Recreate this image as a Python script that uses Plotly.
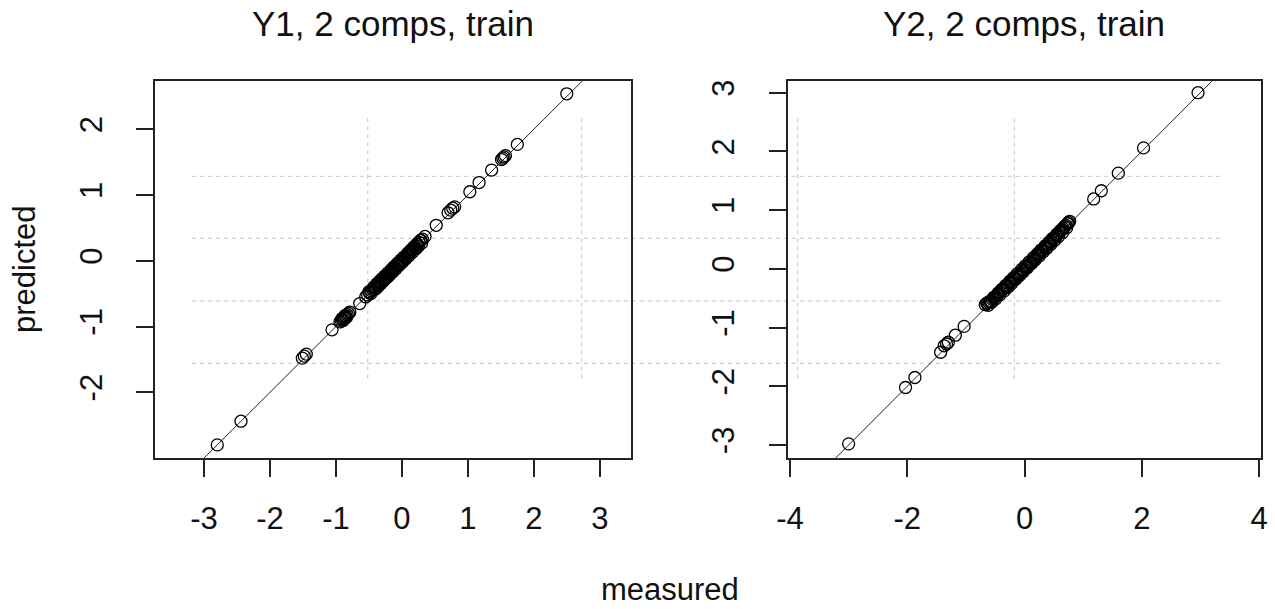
import plotly.graph_objects as go

# ---- data: measured vs. predicted responses (training set, 2 components) ----
y1_measured = [2.50, 1.75, 1.57, 1.55, 1.53, 1.51, 1.36, 1.17, 1.03, 0.80, 0.77, 0.74,
               0.70, 0.52, 0.35, 0.31, 0.29, 0.26, 0.24, 0.22, 0.20, 0.19, 0.17, 0.15,
               0.13, 0.12, 0.10, 0.08, 0.07, 0.05, 0.04, 0.02, 0.00, -0.01, -0.03,
               -0.05, -0.06, -0.08, -0.10, -0.11, -0.13, -0.15, -0.17, -0.18, -0.20,
               -0.22, -0.24, -0.25, -0.27, -0.29, -0.31, -0.33, -0.35, -0.37, -0.39,
               -0.41, -0.44, -0.46, -0.49, -0.52, -0.55, -0.64, -0.79, -0.81, -0.83,
               -0.85, -0.87, -0.88, -0.90, -0.92, -0.94, -1.06, -1.45, -1.48, -1.51,
               -2.44, -2.80,
               0.30, 0.28, 0.25, 0.23, 0.21, 0.18, 0.16, 0.14, 0.11, 0.09, 0.06, 0.03,
               0.01, -0.02, -0.04, -0.07, -0.09, -0.12, -0.14, -0.16, -0.19, -0.21,
               -0.23, -0.26, -0.28, -0.30, -0.32, -0.34, -0.36, -0.38, -0.40, -0.43,
               -0.47, -0.50, -0.84, -0.86, -0.89, -0.91]
y1_predicted = [2.54, 1.77, 1.60, 1.58, 1.56, 1.54, 1.38, 1.19, 1.05, 0.82, 0.80, 0.77,
                0.73, 0.54, 0.37, 0.33, 0.31, 0.28, 0.25, 0.23, 0.21, 0.20, 0.18, 0.16,
                0.14, 0.13, 0.11, 0.09, 0.07, 0.05, 0.04, 0.02, 0.00, -0.01, -0.03,
                -0.05, -0.06, -0.08, -0.10, -0.11, -0.13, -0.15, -0.17, -0.18, -0.20,
                -0.22, -0.24, -0.25, -0.27, -0.29, -0.31, -0.33, -0.35, -0.37, -0.39,
                -0.41, -0.44, -0.46, -0.49, -0.52, -0.55, -0.65, -0.78, -0.80, -0.82,
                -0.84, -0.86, -0.87, -0.89, -0.91, -0.93, -1.05, -1.42, -1.45, -1.48,
                -2.44, -2.80,
                0.27, 0.31, 0.22, 0.26, 0.18, 0.21, 0.13, 0.17, 0.08, 0.12, 0.03, 0.06,
                -0.02, 0.01, -0.07, -0.04, -0.12, -0.09, -0.17, -0.13, -0.22, -0.18,
                -0.26, -0.23, -0.31, -0.27, -0.35, -0.31, -0.39, -0.35, -0.43, -0.40,
                -0.50, -0.47, -0.86, -0.83, -0.91, -0.88]

y2_measured = [2.96, 2.03, 1.60, 1.31, 1.18, 0.77, 0.75, 0.73, 0.71, 0.69, 0.66, 0.64,
               0.61, 0.59, 0.56, 0.54, 0.51, 0.49, 0.46, 0.44, 0.41, 0.39, 0.36, 0.34,
               0.31, 0.29, 0.26, 0.24, 0.21, 0.19, 0.16, 0.14, 0.11, 0.09, 0.06, 0.04,
               0.02, -0.01, -0.03, -0.06, -0.08, -0.11, -0.13, -0.16, -0.18, -0.21,
               -0.23, -0.26, -0.29, -0.31, -0.34, -0.37, -0.39, -0.42, -0.45, -0.47,
               -0.50, -0.53, -0.55, -0.58, -0.61, -0.64, -0.67, -1.03, -1.18, -1.30,
               -1.33, -1.37, -1.43, -1.87, -2.03, -3.00,
               0.74, 0.72, 0.68, 0.65, 0.62, 0.58, 0.55, 0.52, 0.48, 0.45, 0.42, 0.38,
               0.35, 0.32, 0.28, 0.25, 0.22, 0.18, 0.15, 0.12, 0.08, 0.05, 0.01, -0.02,
               -0.05, -0.09, -0.12, -0.15, -0.19, -0.22, -0.25, -0.28, -0.32, -0.35,
               -0.39, -0.42, -0.45, -0.49, -0.52, -0.56, -0.59, -0.62, -0.64]
y2_predicted = [3.00, 2.06, 1.63, 1.33, 1.19, 0.81, 0.79, 0.77, 0.74, 0.72, 0.69, 0.67,
                0.64, 0.62, 0.58, 0.56, 0.53, 0.51, 0.47, 0.45, 0.42, 0.40, 0.37, 0.35,
                0.32, 0.30, 0.27, 0.25, 0.22, 0.19, 0.16, 0.14, 0.11, 0.09, 0.06, 0.04,
                0.02, -0.01, -0.03, -0.06, -0.08, -0.11, -0.13, -0.16, -0.18, -0.20,
                -0.22, -0.25, -0.28, -0.30, -0.33, -0.35, -0.37, -0.40, -0.43, -0.45,
                -0.48, -0.50, -0.52, -0.55, -0.57, -0.59, -0.61, -0.98, -1.13, -1.25,
                -1.28, -1.31, -1.42, -1.85, -2.02, -2.98,
                0.77, 0.70, 0.72, 0.62, 0.66, 0.55, 0.59, 0.49, 0.52, 0.42, 0.46, 0.35,
                0.39, 0.29, 0.32, 0.22, 0.26, 0.15, 0.19, 0.09, 0.12, 0.02, 0.05, -0.05,
                -0.01, -0.12, -0.08, -0.18, -0.15, -0.25, -0.21, -0.31, -0.28, -0.38,
                -0.35, -0.44, -0.41, -0.51, -0.48, -0.57, -0.55, -0.62, -0.58]

panel_titles = ["Y1, 2 comps, train", "Y2, 2 comps, train"]
x_label = "measured"
y_label = "predicted"

x1_ticks = [-3, -2, -1, 0, 1, 2, 3]
y1_ticks = [-2, -1, 0, 1, 2]
x2_ticks = [-4, -2, 0, 2, 4]
y2_ticks = [-3, -2, -1, 0, 1, 2, 3]

# target line y = x
target = [-6, 6]

W, H = 1275, 609
FONT = "Liberation Sans, Arial, sans-serif"
INK = "#111111"


def px(x):
    return x / W


def py(y):
    return 1 - y / H


def labels(vals):
    # plain hyphen-minus tick labels
    return [str(v) for v in vals]


fig = go.Figure()

marker = dict(symbol="circle-open", size=12, color="black",
              line=dict(width=1.3, color="black"))

fig.add_trace(go.Scatter(x=target, y=target, mode="lines",
                         line=dict(color="#222222", width=1), xaxis="x", yaxis="y",
                         showlegend=False, hoverinfo="skip"))
fig.add_trace(go.Scatter(x=y1_measured, y=y1_predicted, mode="markers", marker=marker,
                         xaxis="x", yaxis="y", showlegend=False))
fig.add_trace(go.Scatter(x=target, y=target, mode="lines",
                         line=dict(color="#222222", width=1), xaxis="x2", yaxis="y2",
                         showlegend=False, hoverinfo="skip"))
fig.add_trace(go.Scatter(x=y2_measured, y=y2_predicted, mode="markers", marker=marker,
                         xaxis="x2", yaxis="y2", showlegend=False))

axis_common = dict(showgrid=False, zeroline=False, showline=True, mirror=True,
                   linecolor="#222222", linewidth=1.6, ticks="outside", ticklen=17,
                   tickwidth=1.6, tickcolor="#222222", automargin=False,
                   tickfont=dict(family=FONT, size=31, color=INK))

y_dom = [py(458.3), py(80.7)]

fig.update_layout(
    width=W, height=H, autosize=False,
    margin=dict(l=0, r=0, t=0, b=0, pad=0),
    paper_bgcolor="white", plot_bgcolor="white",
    xaxis=dict(axis_common, domain=[px(155), px(630.5)], range=[-3.744, 3.466],
               tickvals=x1_ticks, ticktext=labels(x1_ticks), ticklabelstandoff=15,
               anchor="y"),
    yaxis=dict(axis_common, domain=y_dom, range=[-3.004, 2.739],
               tickvals=y1_ticks, ticktext=labels(y1_ticks), tickangle=-90,
               ticklabelstandoff=22, anchor="x"),
    xaxis2=dict(axis_common, domain=[px(787.5), px(1261)], range=[-4.043, 4.034],
                tickvals=x2_ticks, ticktext=labels(x2_ticks), ticklabelstandoff=15,
                anchor="y2"),
    yaxis2=dict(axis_common, domain=y_dom, range=[-3.226, 3.204],
                tickvals=y2_ticks, ticktext=labels(y2_ticks), tickangle=-90,
                ticklabelstandoff=22, anchor="x2"),
)

# panel titles and shared axis labels
annotations = []
for title, cx in zip(panel_titles, [392.75, 1024.25]):
    annotations.append(dict(text=title, x=px(cx), y=py(24), xref="paper", yref="paper",
                            showarrow=False, xanchor="center", yanchor="middle",
                            font=dict(family=FONT, size=35, color=INK)))
annotations.append(dict(text=x_label, x=px(670), y=0.0, xref="paper", yref="paper",
                        showarrow=False, xanchor="center", yanchor="bottom",
                        font=dict(family=FONT, size=31, color=INK)))
annotations.append(dict(text=y_label, x=px(24), y=py(269), xref="paper", yref="paper",
                        showarrow=False, xanchor="center", yanchor="middle", textangle=-90,
                        font=dict(family=FONT, size=31, color=INK)))
fig.update_layout(annotations=annotations)

# light dotted background grid across the figure
grid_rows = [176.3, 238.3, 300.8, 363.3]
grid_row_span = [191.7, 1221.7]
grid_cols = [367.7, 581.7, 797.7, 1014.3]
grid_col_span = [118.5, 380.0]
grid_line = dict(color="#cfcfcf", width=1.3, dash="4px,4px")
shapes = []
for gy in grid_rows:
    shapes.append(dict(type="line", xref="paper", yref="paper", layer="below",
                       x0=px(grid_row_span[0]), x1=px(grid_row_span[1]),
                       y0=py(gy), y1=py(gy), line=grid_line))
for gx in grid_cols:
    shapes.append(dict(type="line", xref="paper", yref="paper", layer="below",
                       x0=px(gx), x1=px(gx),
                       y0=py(grid_col_span[0]), y1=py(grid_col_span[1]), line=grid_line))
fig.update_layout(shapes=shapes)

fig.write_html("out.html")
